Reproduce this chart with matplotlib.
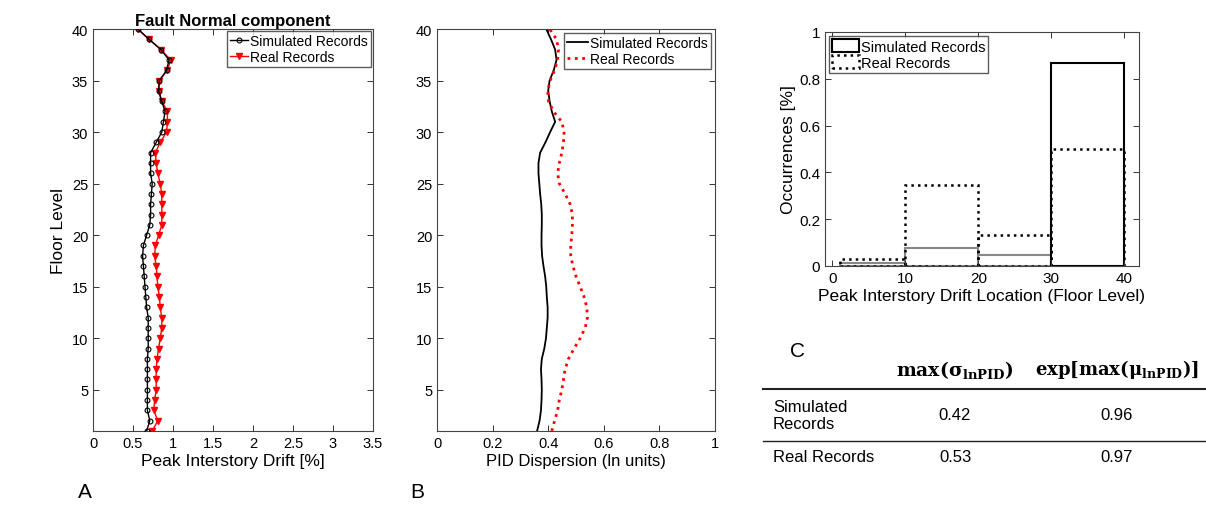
import numpy as np
import matplotlib.pyplot as plt
from matplotlib.lines import Line2D

plt.rcParams["font.family"] = ["Liberation Sans", "DejaVu Sans"]
plt.rcParams["mathtext.fontset"] = "dejavuserif"

# Panel A: peak interstory drift per floor (%)
floors = np.arange(1, 41)
sim_drift = [0.67, 0.71, 0.68, 0.68, 0.68, 0.68, 0.68, 0.68, 0.69, 0.69,
             0.69, 0.69, 0.67, 0.66, 0.65, 0.64, 0.63, 0.62, 0.63, 0.67,
             0.71, 0.72, 0.72, 0.73, 0.74, 0.72, 0.72, 0.72, 0.79, 0.86,
             0.88, 0.90, 0.86, 0.82, 0.83, 0.92, 0.95, 0.85, 0.70, 0.56]
real_drift = [0.74, 0.81, 0.76, 0.77, 0.79, 0.79, 0.79, 0.80, 0.82, 0.84,
              0.86, 0.86, 0.84, 0.83, 0.81, 0.80, 0.79, 0.77, 0.78, 0.82,
              0.86, 0.86, 0.86, 0.86, 0.84, 0.81, 0.79, 0.78, 0.84, 0.92,
              0.93, 0.93, 0.86, 0.82, 0.83, 0.93, 0.97, 0.85, 0.70, 0.56]

# Panel B: PID dispersion (ln units)
sim_disp = [0.360, 0.369, 0.374, 0.376, 0.377, 0.376, 0.374, 0.377, 0.386, 0.392,
            0.395, 0.398, 0.398, 0.395, 0.393, 0.389, 0.383, 0.378, 0.376, 0.376,
            0.377, 0.377, 0.375, 0.371, 0.368, 0.365, 0.365, 0.371, 0.390, 0.407,
            0.425, 0.413, 0.405, 0.400, 0.405, 0.420, 0.430, 0.425, 0.410, 0.393]
real_disp = [0.413, 0.423, 0.434, 0.440, 0.449, 0.455, 0.461, 0.473, 0.493, 0.515,
             0.533, 0.541, 0.539, 0.529, 0.515, 0.500, 0.489, 0.481, 0.481, 0.485,
             0.487, 0.487, 0.479, 0.461, 0.440, 0.434, 0.440, 0.449, 0.455, 0.457,
             0.449, 0.419, 0.401, 0.398, 0.407, 0.423, 0.434, 0.437, 0.430, 0.405]

# Panel C: histogram of peak drift location
bin_edges = [1, 10, 20, 30, 40]
sim_occ = [0.014, 0.078, 0.046, 0.868]
real_occ = [0.028, 0.345, 0.134, 0.500]

# Table
table_cols = [r"$\mathbf{max(\sigma_{lnPID})}$", r"$\mathbf{exp[max(\mu_{lnPID})]}$"]
table_rows = ["Simulated\nRecords", "Real Records"]
table_vals = [["0.42", "0.96"], ["0.53", "0.97"]]

W, H = 1206, 510
fig = plt.figure(figsize=(W / 100, H / 100), dpi=100)


def px(l, t, r, b):
    return [l / W, 1 - b / H, (r - l) / W, (b - t) / H]


def style(ax):
    ax.tick_params(direction="in", top=True, right=True, labelsize=10.5,
                   length=4, color="#333333", width=0.7)
    for s in ax.spines.values():
        s.set_color("#444444")
        s.set_linewidth(0.8)


# ---- Panel A
axA = fig.add_axes(px(93, 30, 373, 432))
axA.plot(real_drift, floors, "-v", color="red", lw=1, ms=4.5,
         label="Real Records", zorder=2)
axA.plot(sim_drift, floors, "-o", color="black", lw=1, ms=3.5,
         mfc="none", mew=0.8, label="Simulated Records", zorder=3)
axA.set_xlim(0, 3.5)
axA.set_ylim(1, 40)
axA.set_xticks(np.arange(0, 3.6, 0.5))
axA.set_xticklabels(["0", "0.5", "1", "1.5", "2", "2.5", "3", "3.5"])
axA.set_yticks(np.arange(5, 41, 5))
axA.set_xlabel("Peak Interstory Drift [%]", fontsize=12.5, labelpad=2)
axA.set_ylabel("Floor Level", fontsize=12.5, labelpad=4)
axA.set_title("Fault Normal component", fontsize=12, fontweight="bold", pad=3)
style(axA)
h, l = axA.get_legend_handles_labels()
axA.legend(h[::-1], l[::-1], loc="upper right", fontsize=10, frameon=True,
           fancybox=False, edgecolor="#333333", borderpad=0.2, handlelength=1.3,
           handletextpad=0.2, labelspacing=0.15, borderaxespad=0.15)

# ---- Panel B
axB = fig.add_axes(px(437, 30, 715, 432))
axB.plot(sim_disp, floors, "-", color="black", lw=1.3, label="Simulated Records")
axB.plot(real_disp, floors, ":", color="red", lw=2, label="Real Records")
axB.set_xlim(0, 1)
axB.set_ylim(1, 40)
axB.set_xticks(np.arange(0, 1.01, 0.2))
axB.set_xticklabels(["0", "0.2", "0.4", "0.6", "0.8", "1"])
axB.set_yticks(np.arange(5, 41, 5))
axB.set_xlabel("PID Dispersion (ln units)", fontsize=12, labelpad=2)
style(axB)
axB.legend(loc="upper right", fontsize=10, frameon=True, fancybox=False,
           edgecolor="#333333", borderpad=0.2, handlelength=1.5,
           handletextpad=0.2, labelspacing=0.15, borderaxespad=0.3)

# ---- Panel C
axC = fig.add_axes(px(825, 33, 1139, 267))
lefts = bin_edges[:-1]
widths = np.diff(bin_edges)
axC.bar(lefts, sim_occ, width=widths, align="edge", fill=False,
        edgecolor=["#888888", "#888888", "#888888", "black"], lw=1.5,
        label="Simulated Records")
axC.bar(lefts, real_occ, width=widths, align="edge", fill=False,
        edgecolor="black", lw=1.8, ls=":", label="Real Records")
axC.set_xlim(-1, 42)
axC.set_ylim(0, 1)
axC.set_xticks([0, 10, 20, 30, 40])
axC.set_yticks([0, 0.2, 0.4, 0.6, 0.8, 1])
axC.set_yticklabels(["0", "0.2", "0.4", "0.6", "0.8", "1"])
axC.set_xlabel("Peak Interstory Drift Location (Floor Level)", fontsize=12.5, labelpad=2)
axC.set_ylabel("Occurrences [%]", fontsize=12.5, labelpad=2)
style(axC)
axC.tick_params(labelsize=11)
handles = [plt.Rectangle((0, 0), 1, 1, fill=False, edgecolor="black", lw=1.5),
           plt.Rectangle((0, 0), 1, 1, fill=False, edgecolor="black", lw=1.8, ls=":")]
axC.legend(handles, ["Simulated Records", "Real Records"], loc="upper left",
           fontsize=10.5, frameon=True, fancybox=False, edgecolor="#333333",
           borderpad=0.2, handlelength=1.8, handleheight=1.0,
           handletextpad=0.15, labelspacing=0.1, borderaxespad=0.3)

# ---- Panel letters
fig.text(78 / W, 1 - 493 / H, "A", fontsize=15, va="center")
fig.text(410 / W, 1 - 493 / H, "B", fontsize=15, va="center")
fig.text(790 / W, 1 - 352 / H, "C", fontsize=15, va="center")

# ---- Table
col_x = [955, 1117]
fig.text(col_x[0] / W, 1 - 370 / H, table_cols[0], fontsize=13.5, ha="center", va="center")
fig.text(col_x[1] / W, 1 - 370 / H, table_cols[1], fontsize=13, ha="center", va="center")
fig.add_artist(Line2D([763 / W, 1], [1 - 390 / H] * 2, color="#222222", lw=1.5))
fig.add_artist(Line2D([763 / W, 1], [1 - 442 / H] * 2, color="#222222", lw=1.0))
row_y = [416, 458]
for name, vals, y in zip(table_rows, table_vals, row_y):
    fig.text(773 / W, 1 - y / H, name, fontsize=12, ha="left", va="center",
             linespacing=1.1)
    for v, x in zip(vals, col_x):
        fig.text(x / W, 1 - y / H, v, fontsize=12, ha="center", va="center")

fig.savefig("out.png", dpi=100)
